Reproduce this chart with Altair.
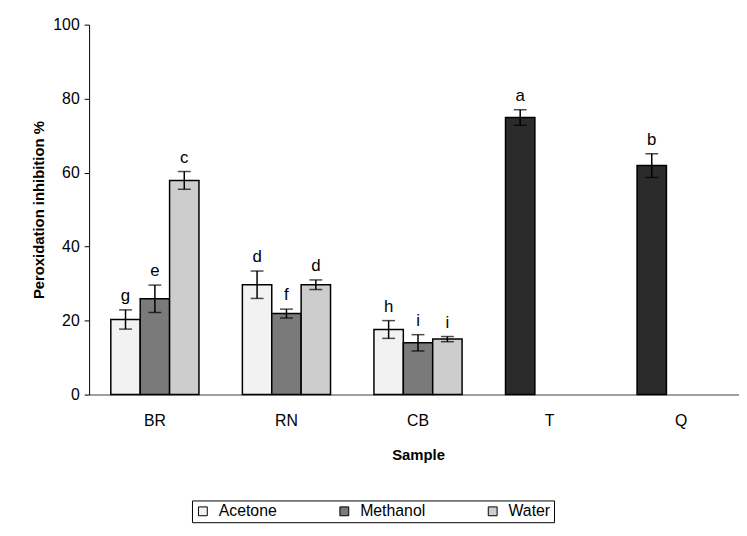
import altair as alt
import pandas as pd

samples = ["BR", "RN", "CB", "T", "Q"]
solvents = ["Acetone", "Methanol", "Water"]

bar_sample = ["BR", "BR", "BR", "RN", "RN", "RN", "CB", "CB", "CB", "T", "Q"]
bar_solvent = ["Acetone", "Methanol", "Water"] * 3 + ["Acetone", "Acetone"]
bar_fill = ["Acetone", "Methanol", "Water"] * 3 + ["Standard", "Standard"]
values = [20.3, 25.9, 57.9, 29.7, 21.9, 29.7, 17.6, 14.0, 15.0, 74.9, 61.9]
errors = [2.6, 3.7, 2.4, 3.7, 1.2, 1.3, 2.4, 2.2, 0.7, 2.1, 3.2]
letters = ["g", "e", "c", "d", "f", "d", "h", "i", "i", "a", "b"]

df = pd.DataFrame({
    "sample": bar_sample,
    "solvent": bar_solvent,
    "fill": bar_fill,
    "value": values,
    "err": errors,
    "letter": letters,
})
df["low"] = df["value"] - df["err"]
df["high"] = df["value"] + df["err"]

FONT = "Liberation Sans"

x_enc = alt.X(
    "sample:N",
    sort=samples,
    scale=alt.Scale(domain=samples, range=[0, 665], paddingInner=0.33, paddingOuter=0.165),
    axis=alt.Axis(
        title="Sample", titleFontWeight="bold", titleFontSize=15, titlePadding=20,
        labelFontSize=16, labelAngle=0, ticks=False, labelPadding=18,
        domainColor="#808080", domainWidth=1.5, labelColor="black", titleColor="black",
    ),
)
xoff = alt.XOffset("solvent:N", scale=alt.Scale(domain=solvents, paddingInner=0, paddingOuter=0))
y_scale = alt.Scale(domain=[0, 100], nice=False)

bars = alt.Chart(df).mark_bar(stroke="black", strokeWidth=1.5).encode(
    x=x_enc,
    xOffset=xoff,
    y=alt.Y(
        "value:Q",
        scale=y_scale,
        axis=alt.Axis(
            title="Peroxidation inhibition %", titleFontWeight="bold", titleFontSize=15,
            titlePadding=6, labelFontSize=16, values=[0, 20, 40, 60, 80, 100],
            grid=False, tickSize=5, labelPadding=5, domainColor="black", tickColor="black",
            labelColor="black", titleColor="black",
        ),
    ),
    color=alt.Color(
        "fill:N",
        scale=alt.Scale(
            domain=["Acetone", "Methanol", "Water", "Standard"],
            range=["#f2f2f2", "#7a7a7a", "#cdcdcd", "#2b2b2b"],
        ),
        legend=alt.Legend(
            values=solvents, title=None, orient="none", legendX=104, legendY=481,
            direction="horizontal", strokeColor="black", padding=3,
            symbolType="square", symbolSize=80, symbolStrokeColor="black",
            symbolStrokeWidth=1, labelFontSize=16, columnPadding=60, labelOffset=8,
            labelColor="black", fillColor="white",
        ),
    ),
)

rules = alt.Chart(df).mark_rule(color="black", strokeWidth=1.5).encode(
    x=x_enc, xOffset=xoff, y=alt.Y("low:Q", scale=y_scale), y2="high:Q"
)
caps_lo = alt.Chart(df).mark_tick(color="black", thickness=1.5, size=13).encode(
    x=x_enc, xOffset=xoff, y=alt.Y("low:Q", scale=y_scale)
)
caps_hi = alt.Chart(df).mark_tick(color="black", thickness=1.5, size=13).encode(
    x=x_enc, xOffset=xoff, y=alt.Y("high:Q", scale=y_scale)
)
labels = alt.Chart(df).mark_text(baseline="bottom", dy=-5, fontSize=17, color="black").encode(
    x=x_enc, xOffset=xoff, y=alt.Y("high:Q", scale=y_scale), text="letter:N"
)

chart = alt.layer(bars, rules, caps_lo, caps_hi, labels).properties(
    width=650,
    height=374,
    autosize=alt.AutoSizeParams(type="none"),
    padding={"left": 82, "top": 14, "right": 7, "bottom": 130},
).configure(font=FONT).configure_view(stroke=None)

chart.save("out.html", embed_options={"renderer": "svg", "actions": False})
